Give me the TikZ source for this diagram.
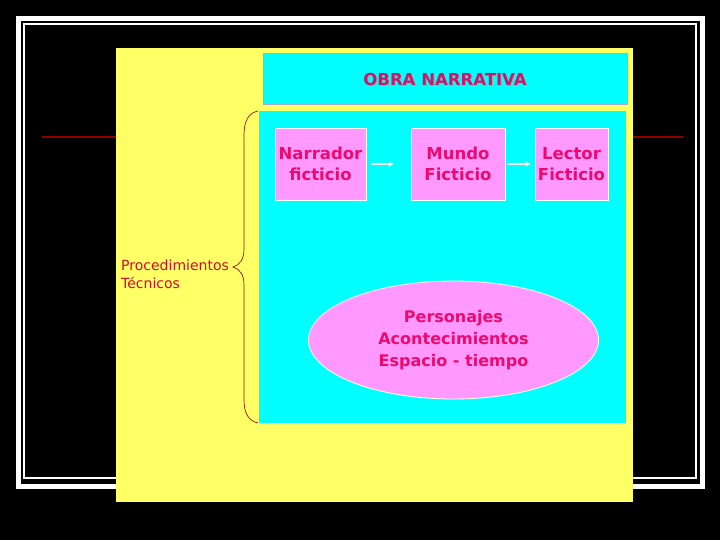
\documentclass[tikz,border=0pt]{standalone}
\usepackage{fontspec}
\setmainfont{DejaVu Sans}
\usetikzlibrary{shapes.geometric,arrows.meta}
\definecolor{bgyellow}{RGB}{255,255,102}
\definecolor{bgcyan}{RGB}{0,255,255}
\definecolor{pinkfill}{RGB}{255,153,255}
\definecolor{pinktext}{RGB}{235,10,110}
\definecolor{titletext}{RGB}{195,25,110}
\definecolor{bracered}{RGB}{150,20,20}
\definecolor{labelred}{RGB}{210,10,50}
\definecolor{linered}{RGB}{145,0,0}
\tikzset{
  pinkbox/.style={draw=white, line width=0.8pt, fill=pinkfill, minimum height=72pt,
    text=pinktext, font=\fontsize{16.5}{21.5}\selectfont\bfseries, align=center, inner sep=0pt},
  whitearrow/.style={draw=white, line width=1.2pt, -{Stealth[length=5pt,width=5pt]}},
}
\begin{document}
\begin{tikzpicture}[x=1pt,y=-1pt]
\fill[black] (0,0) rectangle (720,540);
\useasboundingbox (0,0) rectangle (720,540);
% frames
\draw[white, line width=5pt] (18.5,18.5) rectangle (702.5,486);
\draw[white, line width=1.3pt] (24,24) rectangle (696,478);
% red rule
\draw[linered, line width=2pt] (42,136.7) -- (683,136.7);
% yellow panel
\fill[bgyellow] (116,48) rectangle (632.5,502);
% title box
\node[draw={rgb,255:red,170;green,170;blue,200}, line width=1pt, fill=bgcyan,
  minimum width=364pt, minimum height=51pt, inner sep=0pt] (title) at (445,79.5) {};
\node[text=gray!70, font=\fontsize{16.5}{18}\selectfont\bfseries] at ([xshift=1pt,yshift=-1pt]title.center) {OBRA NARRATIVA};
\node[text=titletext, font=\fontsize{16.5}{18}\selectfont\bfseries] (titletxt) at (title.center) {OBRA NARRATIVA};
% main cyan box
\node[fill=bgcyan, minimum width=367pt, minimum height=312pt, inner sep=0pt] (main) at (442.5,267) {};
% pink boxes
\node[pinkbox, minimum width=91pt] (narr) at (320.5,164) {Narrador\\ficticio};
\node[pinkbox, minimum width=94pt] (mundo) at (458,164) {Mundo\\Ficticio};
\node[pinkbox, minimum width=73pt] (lector) at (571.5,164) {Lector\\Ficticio};
\draw[whitearrow, shorten <=5pt, shorten >=17pt] (narr.east) -- (mundo.west);
\draw[whitearrow, shorten <=2pt, shorten >=4pt] (mundo.east) -- (lector.west);
% ellipse
\node[ellipse, draw=white, line width=0.8pt, fill=pinkfill, minimum width=290pt, minimum height=118pt,
  inner sep=0pt, text=pinktext, font=\fontsize{16}{22}\selectfont\bfseries, align=center] (elli) at (453.5,340)
  {Personajes\\Acontecimientos\\Espacio - tiempo};
% brace
\coordinate (btop) at (258,111);
\coordinate (bbot) at (258,423);
\coordinate (btip) at (233,267);
\draw[bracered, line width=0.7pt] (btop) .. controls (249,113) and (244,120) .. (244,135) -- (244,249)
  .. controls (244,259) and (240,265) .. (btip)
  .. controls (240,269) and (244,275) .. (244,285) -- (244,400)
  .. controls (244,414) and (249,421) .. (bbot);
\node[anchor=north west, text=labelred, font=\fontsize{14}{18}\selectfont, align=left, inner sep=0pt]
  (label) at (121,260) {Procedimientos\\Técnicos};
\end{tikzpicture}
\end{document}
